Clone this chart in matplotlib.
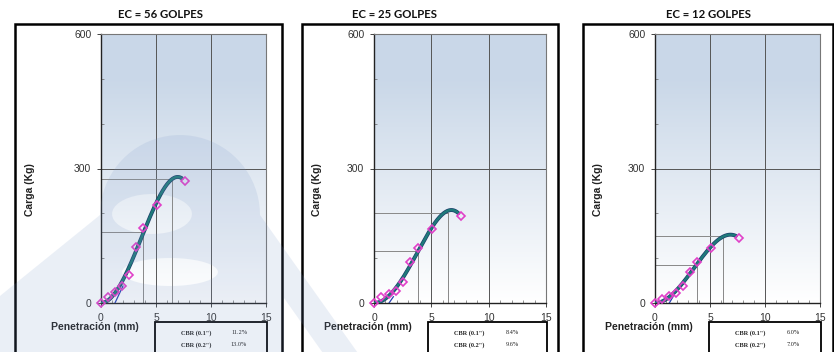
import numpy as np
import matplotlib
matplotlib.use("Agg")
import matplotlib.pyplot as plt
from matplotlib.patches import Rectangle, PathPatch
from matplotlib.path import Path

# ---- data ----
titles = ["EC = 56 GOLPES", "EC = 25 GOLPES", "EC = 12 GOLPES"]
penetration = [0.0, 0.64, 1.27, 1.91, 2.54, 3.18, 3.81, 5.08, 7.62]
load_56 = [0, 14, 24, 38, 62, 126, 168, 218, 273]
load_25 = [0, 13, 19, 26, 46, 91, 123, 165, 193]
load_12 = [0, 9, 16, 22, 39, 70, 91, 123, 146]
loads = [load_56, load_25, load_12]
# corrected reading lines: (x, load) for 0.1" and 0.2"
ref_x01 = [3.85, 3.85, 3.80]
ref_y01 = [159, 117, 85]
ref_x02 = [6.43, 6.42, 6.20]
ref_y02 = [276, 200, 149]
# correction (tangent) lines
corr_x0 = [1.27, 1.31, 1.30]
corr_x1 = [2.00, 1.69, 1.64]
corr_y1 = [38, 14, 14]
cbr01 = ["11.2%", "8.4%", "6.0%"]
cbr02 = ["13.0%", "9.6%", "7.0%"]
cbr_labels = ['CBR (0.1")', 'CBR (0.2")']
xticks = [0, 5, 10, 15]
yticks = [0, 300, 600]

W, H = 834, 352
fig = plt.figure(figsize=(W / 100, H / 100), dpi=100)
fig.patch.set_facecolor("white")


def fx(px):
    return px / W


def fy(py):
    return 1 - py / H


# pixel geometry per panel
axes_px = [(101, 266), (374, 546), (655, 820)]
box_px = [(15, 282), (302, 558), (583, 833)]
title_cx = [160, 394, 709]
ytop, ybot = 34, 303

for i in range(3):
    x0, x1 = axes_px[i]
    bx0, bx1 = box_px[i]
    # outer black box
    fig.patches.append(Rectangle((fx(bx0), fy(360)), fx(bx1 - bx0), (360 - 24) / H,
                                 transform=fig.transFigure, fill=False,
                                 edgecolor="black", linewidth=1.8, zorder=1))
    # title
    fig.text(fx(title_cx[i]), fy(14), titles[i], ha="center", va="center",
             fontsize=8.2, fontweight="bold", family="Lato", color="#111111")

    ax = fig.add_axes([fx(x0), fy(ybot), fx(x1 - x0), (ybot - ytop) / H])
    ax.set_xlim(0, 15)
    ax.set_ylim(0, 600)
    # gradient background
    grad = np.linspace(0, 1, 256).reshape(-1, 1)
    top = np.array([0.79, 0.845, 0.91])
    bot = np.array([1.0, 1.0, 1.0])
    t = np.clip(grad * 1.2, 0, 1)
    img = (bot + (top - bot) * t).reshape(256, 1, 3)
    ax.imshow(img, extent=[0, 15, 0, 600], origin="lower", aspect="auto", zorder=0)

    ax.set_xticks(xticks)
    ax.set_yticks(yticks)
    ax.set_xticks(np.arange(0, 16, 1), minor=True)
    ax.set_yticks(np.arange(0, 601, 100), minor=True)
    ax.grid(True, which="major", color="#555555", linewidth=0.7, zorder=1)
    ax.tick_params(axis="both", which="major", length=3, width=0.7, color="#444444",
                   pad=4, labelsize=7.5, labelcolor="#333333")
    ax.tick_params(axis="both", which="minor", direction="in", length=2.5, width=0.5,
                   color="#666666")
    for lab in ax.get_xticklabels() + ax.get_yticklabels():
        lab.set_family("Liberation Sans")
    for s in ["top", "right"]:
        ax.spines[s].set_color("#777777")
        ax.spines[s].set_linewidth(0.8)
    for s in ["left", "bottom"]:
        ax.spines[s].set_color("#222222")
        ax.spines[s].set_linewidth(1.0)

    # reference lines
    lc = "#888888"
    ax.plot([0, ref_x01[i]], [ref_y01[i], ref_y01[i]], color=lc, lw=0.7, zorder=2)
    ax.plot([ref_x01[i], ref_x01[i]], [0, ref_y01[i]], color=lc, lw=0.7, zorder=2)
    ax.plot([0, ref_x02[i]], [ref_y02[i], ref_y02[i]], color=lc, lw=0.7, zorder=2)
    ax.plot([ref_x02[i], ref_x02[i]], [0, ref_y02[i]], color=lc, lw=0.7, zorder=2)

    # fitted curve: polynomial trendline through origin (least squares on data)
    px = np.asarray(penetration)
    py = np.asarray(loads[i], dtype=float)
    A = np.column_stack([px ** 2, px ** 3, px ** 4])
    c, *_ = np.linalg.lstsq(A, py, rcond=None)
    xs = np.linspace(0, 7.35, 200)
    ys = c[0] * xs ** 2 + c[1] * xs ** 3 + c[2] * xs ** 4
    ax.plot(xs, ys, color="#1b3f6b", lw=2.8, zorder=3, solid_capstyle="round")
    ax.plot(xs, ys, color="#1f7a7a", lw=1.8, zorder=4, solid_capstyle="round")
    # correction line
    ax.plot([corr_x0[i], corr_x1[i]], [0, corr_y1[i]], color="#2840b0", lw=0.9, zorder=4)
    # points
    ax.plot(penetration, loads[i], linestyle="none", marker="D", markersize=4.0,
            markerfacecolor="none", markeredgecolor="#e040c8", markeredgewidth=1.2,
            zorder=5, clip_on=False)

    # axis labels
    fig.text(fx(bx0 + 15), fy(190), "Carga (Kg)", rotation=90,
             ha="center", va="center", fontsize=7.5, fontweight="bold",
             family="Liberation Sans", color="#222222")
    fig.text(fx(x0 - 6), fy(327), "Penetración (mm)", ha="center", va="center",
             fontsize=7.5, fontweight="bold", family="Liberation Sans", color="#222222")

    # CBR box
    cx0 = x0 + 54
    cx1 = x1 + 1
    fig.patches.append(Rectangle((fx(cx0), fy(360)), fx(cx1 - cx0), (360 - 322) / H,
                                 transform=fig.transFigure, fill=False,
                                 edgecolor="black", linewidth=1.3, zorder=2))
    for r, (lab, val) in enumerate(zip(cbr_labels, [cbr01[i], cbr02[i]])):
        yy = 333 + r * 12
        fig.text(fx(cx0 + 41), fy(yy), lab, ha="center", va="center", fontsize=4.5,
                 fontweight="bold", family="Liberation Serif", color="#222222")
        fig.text(fx(cx0 + 84), fy(yy), val, ha="center", va="center", fontsize=4.5,
                 family="Liberation Serif", color="#222222")

# ---- faint scanned watermark (decoration) ----
def pix(pts):
    return [(fx(a), fy(b)) for a, b in pts]

cx, cy, r = 180, 215, 80
ang = np.linspace(np.pi, 0, 40)
arc = [(cx + r * np.cos(a), cy - r * np.sin(a)) for a in ang]
outer = [(-5, 300)] + arc + [(360, 356), (325, 356), (284, 298), (284, 356), (-5, 356)]
outer_path = Path(pix(outer + [outer[0]]), closed=True)

def ellipse(ecx, ecy, ea, eb, n=40):
    t = np.linspace(0, 2 * np.pi, n)[::-1]
    return Path(pix([(ecx + ea * np.cos(k), ecy + eb * np.sin(k)) for k in t]), closed=True)

holes = [ellipse(152, 214, 40, 20), ellipse(170, 272, 48, 14)]
wm = Path.make_compound_path(outer_path, *holes)
fig.patches.append(PathPatch(wm, transform=fig.transFigure, facecolor=(0.47, 0.59, 0.78),
                             edgecolor="none", alpha=0.15, zorder=10))

fig.savefig("out.png", dpi=100)
